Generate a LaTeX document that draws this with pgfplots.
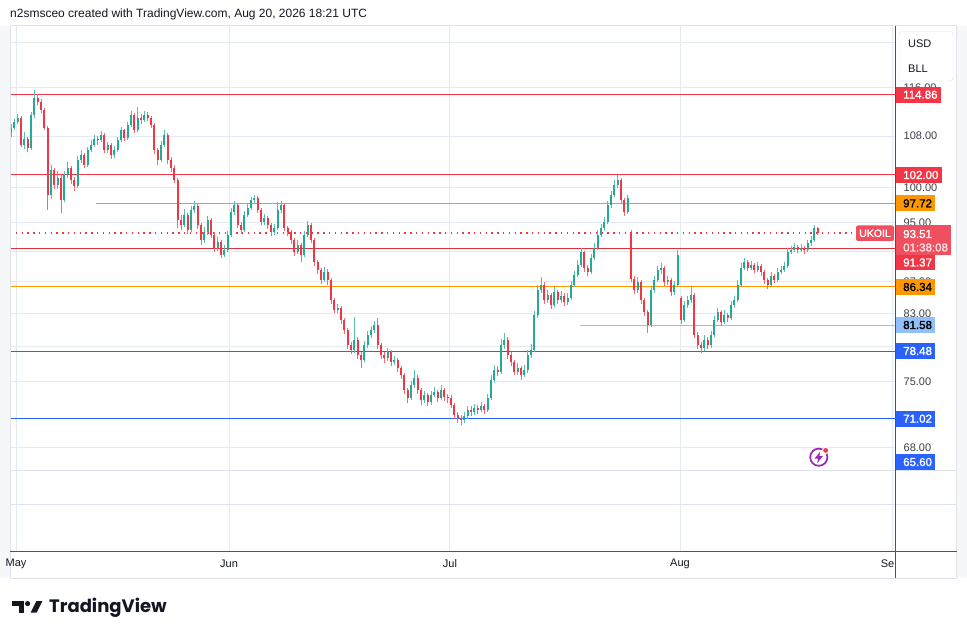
\documentclass[border=0pt]{standalone}
\usepackage{pgfplots}
\pgfplotsset{compat=1.18}
\usepackage{pgfplotstable}
\usepackage{fontspec}
\setmainfont{Liberation Sans}
\newfontfamily\poppins{Poppins}
\newfontfamily\boldlbl{Liberation Sans}[FakeBold=1.6]
\definecolor{tvgreen}{HTML}{22AB94}
\definecolor{tvred}{HTML}{F23645}
\definecolor{tvorange}{HTML}{FF9800}
\definecolor{tvblue}{HTML}{2962FF}
\definecolor{tvlblue}{HTML}{90BFF9}
\definecolor{tvgrid}{HTML}{E4EAF2}
\definecolor{tvtext}{HTML}{131722}
\definecolor{tvtick}{HTML}{3C3F48}
\definecolor{tvaxis}{HTML}{50535E}
\definecolor{tvsep}{HTML}{E0E3EB}
\definecolor{tvpurple}{HTML}{9C27B0}
\definecolor{tvside}{HTML}{F6F7F9}
\definecolor{tvcur}{HTML}{EF4F5E}
\pgfplotstableread{
i o h l c
0 108.65 110.0 107.9 109.30
1 109.30 110.8 109.0 110.27
2 110.27 111.6 109.9 110.92
3 110.92 111.2 106.2 106.57
4 106.57 108.6 106.0 107.52
5 107.52 107.9 105.4 106.10
6 106.10 111.9 105.8 111.42
7 111.42 115.6 111.0 114.26
8 114.26 114.9 113.0 113.58
9 113.58 114.1 111.8 112.25
10 112.25 112.6 108.9 109.30
11 109.30 109.6 96.8 98.95
12 98.95 103.4 98.4 102.69
13 102.69 103.0 99.9 100.42
14 100.42 102.6 99.8 101.47
15 101.47 101.9 96.3 98.22
16 98.22 102.5 97.9 101.93
17 101.93 103.9 101.5 103.00
18 103.00 103.3 100.6 101.17
19 101.17 101.6 99.6 100.27
20 100.27 104.8 100.0 104.22
21 104.22 105.7 103.8 105.00
22 105.00 105.3 103.0 103.45
23 103.45 106.3 103.2 105.78
24 105.78 107.3 105.4 106.57
25 106.57 108.1 106.2 107.52
26 107.52 108.0 106.6 107.36
27 107.36 108.8 107.0 108.16
28 108.16 108.4 105.3 105.78
29 105.78 107.1 105.3 106.57
30 106.57 106.9 104.4 105.00
31 105.00 106.4 104.6 105.78
32 105.78 107.9 105.5 107.36
33 107.36 109.5 107.1 108.97
34 108.97 109.2 107.2 107.68
35 107.68 110.3 107.4 109.78
36 109.78 112.0 109.5 111.42
37 111.42 111.8 108.5 108.97
38 108.97 112.75 108.7 110.92
39 110.92 111.5 110.0 110.59
40 110.59 112.0 110.2 111.42
41 111.42 111.9 110.4 110.92
42 110.92 111.2 109.3 109.78
43 109.78 110.1 105.2 105.78
44 105.78 106.1 103.4 104.22
45 104.22 107.2 103.9 106.57
46 106.57 108.97 106.2 108.16
47 108.16 108.5 103.6 104.22
48 104.22 104.7 102.4 103.00
49 103.00 103.4 100.7 101.17
50 101.17 101.5 94.2 95.34
51 95.34 96.0 94.0 94.64
52 94.64 96.9 94.3 96.05
53 96.05 96.4 93.4 93.94
54 93.94 97.4 93.6 96.77
55 96.77 98.0 96.3 97.35
56 97.35 97.6 94.1 94.64
57 94.64 94.9 91.9 92.56
58 92.56 94.3 92.2 93.66
59 93.66 95.9 93.3 95.34
60 95.34 95.6 92.8 93.25
61 93.25 93.6 90.9 91.46
62 91.46 93.0 91.1 92.28
63 92.28 92.6 90.1 90.52
64 90.52 91.9 90.2 91.19
65 91.19 93.8 90.9 93.25
66 93.25 97.0 93.0 96.48
67 96.48 98.1 96.0 97.49
68 97.49 97.8 94.2 94.64
69 94.64 95.1 93.4 93.94
70 93.94 96.6 93.6 96.05
71 96.05 97.7 95.7 97.06
72 97.06 98.7 96.8 98.22
73 98.22 98.95 97.8 98.51
74 98.51 98.8 96.3 96.77
75 96.77 97.1 94.6 95.06
76 95.06 96.2 94.7 95.62
77 95.62 95.9 94.1 94.64
78 94.64 94.9 93.1 93.66
79 93.66 94.8 93.3 94.22
80 94.22 97.93 94.0 96.77
81 96.77 98.1 96.4 97.49
82 97.49 97.7 93.8 94.22
83 94.22 94.5 93.1 93.66
84 93.66 93.9 92.0 92.56
85 92.56 92.8 90.4 90.92
86 90.92 92.5 90.6 91.87
87 91.87 92.1 89.59 90.52
88 90.52 93.8 90.3 93.25
89 93.25 95.2 92.9 94.64
90 94.64 94.9 92.1 92.56
91 92.56 92.8 89.1 89.59
92 89.59 89.9 88.0 88.53
93 88.53 88.8 86.7 87.22
94 87.22 88.9 86.9 88.27
95 88.27 88.6 86.6 87.22
96 87.22 87.5 84.2 84.67
97 84.67 84.9 83.0 83.43
98 83.43 84.2 83.1 83.68
99 83.68 83.9 81.7 82.20
100 82.20 82.5 80.5 80.99
101 80.99 81.2 78.8 79.20
102 79.20 79.6 78.1 78.62
103 78.62 82.6 78.3 79.79
104 79.79 80.1 77.6 78.04
105 78.04 78.4 76.6 77.46
106 77.46 79.7 77.2 79.20
107 79.20 80.9 78.9 80.39
108 80.39 81.5 80.0 80.99
109 80.99 82.1 80.6 81.59
110 81.59 82.44 78.8 79.20
111 79.20 79.5 77.6 78.04
112 78.04 78.4 77.1 77.69
113 77.69 78.9 77.4 78.39
114 78.39 78.6 76.8 77.23
115 77.23 77.9 76.9 77.46
116 77.46 77.7 76.1 76.55
117 76.55 76.8 75.3 75.76
118 75.76 76.0 73.6 74.09
119 74.09 74.3 72.7 73.22
120 73.22 75.1 73.0 74.64
121 74.64 76.3 74.3 75.42
122 75.42 75.7 73.6 74.09
123 74.09 74.3 72.5 73.00
124 73.00 74.0 72.7 73.54
125 73.54 73.8 72.3 72.78
126 72.78 74.0 72.5 73.54
127 73.54 74.4 73.3 73.87
128 73.87 74.1 72.8 73.22
129 73.22 74.64 73.0 74.09
130 74.09 74.3 72.9 73.33
131 73.33 73.7 72.7 73.22
132 73.22 73.5 72.1 72.46
133 72.46 72.7 71.0 71.39
134 71.39 71.7 70.6 71.07
135 71.07 71.4 70.34 70.86
136 70.86 71.7 70.6 71.28
137 71.28 72.4 71.0 71.92
138 71.92 72.3 71.3 71.71
139 71.71 72.6 71.4 72.14
140 72.14 72.5 71.5 71.92
141 71.92 72.8 71.7 72.35
142 72.35 72.6 71.5 71.92
143 71.92 73.6 71.7 73.22
144 73.22 75.7 73.0 75.20
145 75.20 76.9 74.9 76.32
146 76.32 76.8 75.6 76.09
147 76.09 79.9 75.9 79.20
148 79.20 80.63 78.8 79.79
149 79.79 80.1 77.6 78.04
150 78.04 78.4 76.8 77.23
151 77.23 77.5 75.7 76.09
152 76.09 77.1 75.8 76.55
153 76.55 76.8 75.2 75.76
154 75.76 76.9 75.5 76.32
155 76.32 78.6 76.0 78.04
156 78.04 79.3 77.7 78.62
157 78.62 83.3 78.4 82.81
158 82.81 86.6 82.5 85.94
159 85.94 87.61 85.5 86.58
160 86.58 86.9 84.2 84.67
161 84.67 85.9 84.3 85.30
162 85.30 85.6 83.6 84.05
163 84.05 86.3 83.8 85.68
164 85.68 86.0 84.2 84.67
165 84.67 85.8 84.3 85.18
166 85.18 85.5 83.9 84.42
167 84.42 85.5 84.1 84.92
168 84.92 87.1 84.7 86.58
169 86.58 88.4 86.3 87.87
170 87.87 89.8 87.6 89.19
171 89.19 91.46 88.9 90.92
172 90.92 91.1 88.3 88.79
173 88.79 89.2 87.7 88.27
174 88.27 90.7 88.0 90.12
175 90.12 92.1 89.8 91.46
176 91.46 93.9 91.2 93.25
177 93.25 94.8 92.9 94.22
178 94.22 95.7 93.8 95.06
179 95.06 98.1 94.8 97.49
180 97.49 99.6 97.1 98.95
181 98.95 101.1 98.6 100.42
182 100.42 101.93 100.0 101.17
183 101.17 101.4 97.7 98.22
184 98.22 98.5 95.9 96.48
185 96.48 99.0 96.2 98.51
186 93.66 93.9 86.9 87.35
187 87.35 87.7 85.4 85.94
188 85.94 87.6 85.6 86.96
189 86.96 87.2 84.2 84.67
190 84.67 84.9 82.7 83.18
191 83.18 83.4 80.63 81.59
192 81.59 86.5 81.3 85.94
193 85.94 87.8 85.6 87.22
194 87.22 89.1 86.9 88.53
195 88.53 89.4 88.0 88.79
196 88.79 89.0 86.5 86.96
197 86.96 87.8 86.6 87.22
198 87.22 87.5 85.2 85.68
199 85.68 87.1 85.3 86.58
200 86.58 91.19 86.3 90.52
201 84.92 85.2 81.7 82.20
202 82.20 84.6 81.9 84.05
203 84.05 85.2 83.7 84.67
204 84.67 86.34 84.3 85.30
205 85.30 85.5 80.0 80.39
206 80.39 80.7 78.8 79.20
207 79.20 79.6 78.27 78.85
208 78.85 80.4 78.5 79.79
209 79.79 80.1 78.8 79.20
210 79.20 80.9 78.9 80.39
211 80.39 82.7 80.1 82.20
212 82.20 83.7 81.9 83.18
213 83.18 83.4 81.5 81.96
214 81.96 83.4 81.7 82.81
215 82.81 83.1 82.0 82.44
216 82.44 84.6 82.2 84.05
217 84.05 85.2 83.7 84.67
218 84.67 87.2 84.4 86.58
219 86.58 89.4 86.3 88.79
220 88.79 90.1 88.5 89.59
221 89.59 89.9 88.4 88.79
222 88.79 89.7 88.5 89.19
223 89.19 89.5 88.1 88.53
224 88.53 89.6 88.2 89.06
225 89.06 89.3 87.8 88.27
226 88.27 88.5 86.7 87.22
227 87.22 87.5 86.1 86.58
228 86.58 88.3 86.3 87.74
229 87.74 88.0 86.8 87.22
230 87.22 88.8 87.0 88.27
231 88.27 89.1 88.0 88.53
232 88.53 89.6 88.3 89.06
233 89.06 91.5 88.8 90.92
234 90.92 91.7 90.6 91.19
235 91.19 92.1 90.9 91.60
236 91.60 91.9 90.8 91.19
237 91.19 92.0 90.9 91.46
238 91.46 91.7 90.7 91.19
239 91.19 92.6 90.9 92.14
240 92.14 93.1 91.8 92.56
241 92.56 94.64 92.3 94.22
242 94.22 94.4 93.2 93.51
}\candles
\newcommand{\lbl}{\fontsize{11}{13}\selectfont}
\newcommand{\blbl}{\boldlbl\fontsize{11.5}{13}\selectfont}
\newcommand{\plabel}[4]{\node[fill=#2, text=#3, anchor=west, inner xsep=3.5pt, inner ysep=0pt, minimum height=16pt, font=\blbl] at (896,#1) {\hspace{3.5pt}#4};}
\begin{document}
\begin{tikzpicture}
\begin{scope}[x=1pt,y=-1pt]
  \fill[white] (0,0) rectangle (967,639);
  \fill[tvside] (0,26) rectangle (10,578);
  \fill[tvside] (957,26) rectangle (967,578);
\end{scope}
\begin{axis}[
  at={(10pt,-470pt)}, anchor=south west,
  scale only axis, width=886pt, height=444pt,
  xmin=-0.3, xmax=265.5,
  ymode=log, ymin=65.80, ymax=127.15,
  axis line style={draw=none},
  ytick={68,71,75,79,83,87,91,95,100,108,116,124},
  yticklabels={68.00,,75.00,,83.00,87.00,,95.00,100.00,108.00,116.00,},
  yticklabel pos=right,
  yticklabel style={anchor=west, font=\lbl, text=tvtick, inner sep=0pt, xshift=7.5pt},
  xtick={1.5,65.4,131.4,200.7,264.3}, xticklabels={},
  major tick length=0pt, tick style={draw=none},
  grid=major, major grid style={draw=tvgrid, line width=0.9pt},
  clip=false, unbounded coords=discard,
]
% horizontal levels
\addplot[tvred, line width=1pt, forget plot] coordinates {(-0.3,114.86) (265.5,114.86)};
\addplot[tvred, line width=1pt, forget plot] coordinates {(-0.3,102.00) (265.5,102.00)};
\addplot[tvorange, line width=1pt, forget plot] coordinates {(25.5,97.72) (265.5,97.72)};
\addplot[tvred, line width=1.2pt, dash pattern=on 1.4pt off 4.4pt, forget plot] coordinates {(-0.3,93.51) (253.5,93.51)};
\addplot[tvred!90!black, line width=1pt, forget plot] coordinates {(-0.3,91.37) (265.5,91.37)};
\addplot[tvorange, line width=1pt, forget plot] coordinates {(-0.3,86.34) (265.5,86.34)};
\addplot[tvlblue, line width=1pt, forget plot] coordinates {(170.7,81.58) (265.5,81.58)};
\addplot[tvblue, line width=1pt, forget plot] coordinates {(-0.3,78.48) (265.5,78.48)};
\addplot[tvblue, line width=1pt, forget plot] coordinates {(-0.3,71.02) (265.5,71.02)};
% candles: wicks
\addplot[draw=none, mark=none, forget plot, error bars/.cd, y dir=plus, y explicit, error mark=none,
  error bar style={draw=tvgreen!75!white, line width=0.7pt}]
  table[x expr={\thisrow{c}<\thisrow{o} ? nan : \thisrow{i}}, y=l, y error plus expr=\thisrow{h}-\thisrow{l}]{\candles};
\addplot[draw=none, mark=none, forget plot, error bars/.cd, y dir=plus, y explicit, error mark=none,
  error bar style={draw=tvred!75!white, line width=0.7pt}]
  table[x expr={\thisrow{c}<\thisrow{o} ? \thisrow{i} : nan}, y=l, y error plus expr=\thisrow{h}-\thisrow{l}]{\candles};
% candles: bodies
\addplot[draw=none, mark=none, forget plot, error bars/.cd, y dir=plus, y explicit, error mark=none,
  error bar style={draw=tvgreen, line width=1.8pt, line cap=butt}]
  table[x expr={\thisrow{c}<\thisrow{o} ? nan : \thisrow{i}}, y=o, y error plus expr=\thisrow{c}-\thisrow{o}]{\candles};
\addplot[draw=none, mark=none, forget plot, error bars/.cd, y dir=plus, y explicit, error mark=none,
  error bar style={draw=tvred, line width=1.8pt, line cap=butt}]
  table[x expr={\thisrow{c}<\thisrow{o} ? \thisrow{i} : nan}, y=c, y error plus expr=\thisrow{o}-\thisrow{c}]{\candles};
\end{axis}
\begin{scope}[x=1pt,y=-1pt]
  % frame and separators
  \draw[tvsep, line width=1pt] (10,26) rectangle (956.5,578);
  \foreach \gx in {16,229,449,680,892} {\draw[tvgrid, line width=0.9pt] (\gx,470) -- (\gx,551);}
  \draw[tvsep, line width=1pt] (10,470) -- (956.5,470);
  \draw[tvsep, line width=1pt] (10,504) -- (956.5,504);
  \draw[tvaxis, line width=1pt] (10,551) -- (956.5,551);
  \draw[tvaxis, line width=1pt] (895.5,26) -- (895.5,578);
  % time labels
  \node[font=\lbl, text=tvtext] at (16,564) {May};
  \node[font=\lbl, text=tvtext] at (229,564) {Jun};
  \node[font=\lbl, text=tvtext] at (450,564) {Jul};
  \node[font=\lbl, text=tvtext] at (680,564) {Aug};
  \node[font=\lbl, text=tvtext, anchor=east, inner xsep=0pt] at (894.5,564) {Se};
  % currency box
  \draw[tvsep, fill=white, rounded corners=3pt] (899,31.5) rectangle (953,81);
  \node[font=\lbl, text=tvtext, anchor=west, inner sep=0pt] at (908,43.5) {USD};
  \node[font=\lbl, text=tvtext, anchor=west, inner sep=0pt] at (908,69) {BLL};
  % price labels
  \plabel{94.7}{tvred}{white}{114.86}
  \plabel{175}{tvred}{white}{102.00}
  \plabel{203.3}{tvorange}{black}{97.72}
  \plabel{262.5}{tvred}{white}{91.37}
  \plabel{287}{tvorange}{black}{86.34}
  \plabel{325}{tvlblue}{black}{81.58}
  \plabel{351}{tvblue}{white}{78.48}
  \plabel{418.7}{tvblue}{white}{71.02}
  \plabel{462}{tvblue}{white}{65.60}
  \fill[tvcur, rounded corners=2pt] (856,225.5) rectangle (894,241);
  \node[font=\boldlbl\fontsize{10.5}{12}\selectfont, text=white] at (875,233.3) {UKOIL};
  \fill[tvcur] (896,225.5) rectangle (951,255);
  \node[font=\blbl, text=white, anchor=west, inner sep=0pt] at (903,234) {93.51};
  \node[font=\blbl, text=white!80!tvcur, anchor=west, inner sep=0pt] at (903,247.5) {01:38:08};
  % lightning icon
  \draw[tvpurple, line width=1.7pt] (818.8,457.2) circle (8.6);
  \fill[white] (825.6,450.4) circle (3.6);
  \fill[tvred] (825.6,450.4) circle (2.4);
  \fill[tvpurple] (820.3,451.5) -- (814.6,458.6) -- (818.2,458.6) -- (817.1,463.2) -- (823.0,456.0) -- (819.4,456.0) -- cycle;
  % header
  \node[font=\fontsize{12}{14}\selectfont, text=tvtext, anchor=west, inner sep=0pt] at (10,14) {n2smsceo created with TradingView.com, Aug 20, 2026 18:21 UTC};
  % logo
  \fill[tvtext] (12,601) rectangle (24,606.2);
  \fill[tvtext] (18.6,601) rectangle (24,612.6);
  \fill[tvtext] (27.6,603.6) circle (2.6);
  \fill[tvtext] (30.6,612.6) -- (36.4,601) -- (42.4,601) -- (36.6,612.6) -- cycle;
  \node[font=\poppins\bfseries\fontsize{18}{20}\selectfont, text=tvtext, anchor=base west, inner sep=0pt] at (49,612.8) {TradingView};
\end{scope}
\end{tikzpicture}
\end{document}
